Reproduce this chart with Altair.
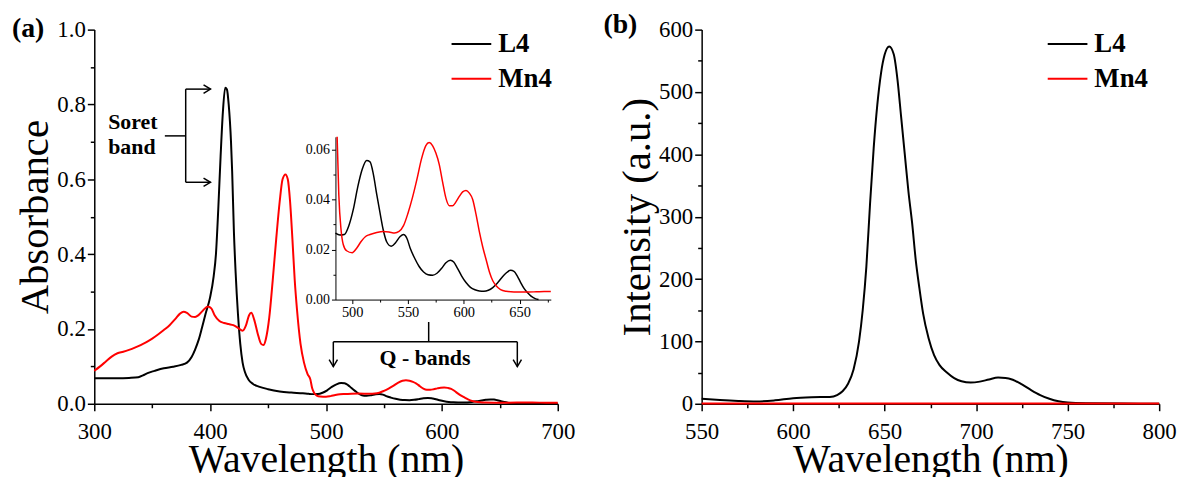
import altair as alt
import pandas as pd

FONT = "Liberation Serif"
SERIES = ["L4", "Mn4"]
COLORS = ["#000000", "#ff0000"]

# ---------------- Panel (a): absorbance, Soret region ----------------
l4_head_wl = [300, 310, 320, 330, 338, 342, 346, 352, 360, 368, 375, 380, 384, 387, 390, 393,
              396, 400, 403, 405, 407, 409, 411, 413, 414.5, 416, 418, 419, 420.5, 422, 424, 426,
              428, 430, 433, 437, 442, 450, 460, 470, 480]
l4_head = [0.068, 0.068, 0.068, 0.069, 0.071, 0.076, 0.082, 0.088, 0.095, 0.099, 0.104, 0.110,
           0.125, 0.145, 0.170, 0.204, 0.240, 0.285, 0.340, 0.400, 0.520, 0.660, 0.780, 0.845,
           0.840, 0.800, 0.700, 0.620, 0.460, 0.350, 0.240, 0.160, 0.110, 0.085, 0.065, 0.053,
           0.046, 0.039, 0.033, 0.030, 0.028]

mn4_head_wl = [300, 305, 310, 315, 320, 325, 330, 335, 340, 345, 350, 355, 360, 365, 370, 374,
               377, 380, 384, 387, 390, 394, 398, 401, 404, 408, 412, 416, 420, 424, 428, 431,
               433.5, 435.5, 438, 441, 444, 446, 448, 451, 454, 457, 460, 462.5, 465, 467, 469,
               471, 473, 475, 478, 481, 484]
mn4_head = [0.088, 0.100, 0.113, 0.126, 0.135, 0.139, 0.144, 0.150, 0.157, 0.165, 0.174, 0.185,
            0.197, 0.210, 0.227, 0.241, 0.246, 0.243, 0.233, 0.232, 0.237, 0.250, 0.260, 0.255,
            0.236, 0.221, 0.216, 0.213, 0.210, 0.203, 0.195, 0.210, 0.236, 0.243, 0.225, 0.188,
            0.160, 0.157, 0.172, 0.230, 0.330, 0.440, 0.540, 0.600, 0.613, 0.600, 0.540, 0.440,
            0.330, 0.250, 0.160, 0.110, 0.080]

# ---------------- Q-band region (inset, also part of the main curves) ----------------
l4_q_wl = [485, 489, 493, 497, 501, 505, 509, 513, 516, 519, 522, 525, 528, 531, 535, 539, 543,
           546, 549, 552, 556, 560, 564, 568, 572, 576, 580, 584, 588, 591, 594, 598, 602, 606,
           610, 614, 618, 622, 626, 630, 634, 638, 642, 645, 648, 651, 654, 657, 660, 664, 667]
l4_q = [0.0265, 0.0258, 0.0260, 0.0295, 0.0360, 0.0450, 0.0520, 0.0555, 0.0550, 0.0500, 0.0420,
        0.0345, 0.0275, 0.0230, 0.0213, 0.0228, 0.0252, 0.0260, 0.0245, 0.0205, 0.0165, 0.0132,
        0.0110, 0.0099, 0.0097, 0.0105, 0.0124, 0.0147, 0.0157, 0.0150, 0.0128, 0.0095, 0.0068,
        0.0049, 0.0039, 0.0034, 0.0033, 0.0037, 0.0048, 0.0065, 0.0087, 0.0106, 0.0117, 0.0113,
        0.0094, 0.0068, 0.0045, 0.0028, 0.0015, 0.0004, 0.0000]

mn4_q_wl = [486.5, 488, 490, 492, 495, 500, 504, 508, 512, 516, 522, 528, 533, 538, 542, 546,
            550, 554, 558, 562, 566, 569, 572, 575, 578, 581, 584, 587, 590, 593, 596, 599, 602,
            605, 608, 611, 614, 617, 620, 623, 626, 629, 633, 638, 645, 655, 665, 672, 678]
mn4_q = [0.0650, 0.0420, 0.0280, 0.0220, 0.0195, 0.0187, 0.0205, 0.0232, 0.0252, 0.0260, 0.0268,
         0.0272, 0.0270, 0.0266, 0.0272, 0.0295, 0.0345, 0.0407, 0.0480, 0.0560, 0.0615, 0.0627,
         0.0615, 0.0585, 0.0540, 0.0470, 0.0405, 0.0375, 0.0375, 0.0390, 0.0412, 0.0430, 0.0436,
         0.0425, 0.0400, 0.0340, 0.0270, 0.0210, 0.0160, 0.0110, 0.0075, 0.0055, 0.0040, 0.0033,
         0.0030, 0.0030, 0.0031, 0.0032, 0.0032]

l4_tail_wl = [675, 685, 700]
l4_tail = [0.0, 0.0, 0.0]
mn4_tail_wl = [690, 700]
mn4_tail = [0.003, 0.003]

# ---------------- Panel (b): emission ----------------
l4_em_wl = [550, 560, 570, 580, 590, 600, 610, 620, 624, 627, 630, 633, 636, 638, 640, 642, 644,
            646, 648, 650, 652.5, 655, 657, 659, 661, 663, 665, 667, 669, 671, 674, 677, 680, 684,
            688, 692, 697, 702, 707, 712, 716, 720, 725, 730, 735, 740, 745, 750, 760, 780, 800]
l4_em = [8, 6, 4.5, 3.7, 5.5, 9, 10.5, 11, 14, 20, 32, 55, 100, 150, 220, 320, 410, 480, 530,
         560, 573, 560, 520, 460, 400, 340, 290, 230, 185, 145, 105, 78, 62, 50, 41, 36, 34, 35.5,
         39, 42, 41.5, 38.5, 31, 22, 14, 8, 4, 2, 0.8, 0.3, 0.2]
mn4_em_wl = [550, 800]
mn4_em = [0.6, 0.6]

# ---------------- annotation data (in panel (a) data units) ----------------
ann_x = [378.9, 378.9, 378.9, 360.9, 506.3, 588.6, 506.3, 665.1]
ann_x2 = [378.9, 400.3, 400.3, 378.9, 665.1, 588.6, 506.3, 665.1]
ann_y = [0.592, 0.841, 0.592, 0.716, 0.1656, 0.1656, 0.0993, 0.0993]
ann_y2 = [0.841, 0.841, 0.592, 0.716, 0.1656, 0.2185, 0.1656, 0.1656]
arrow_r_x = [400.3, 400.3]
arrow_r_y = [0.841, 0.592]
arrow_d_x = [506.3, 665.1]
arrow_d_y = [0.0993, 0.0993]
note_text = ["Soret", "band", "Q - bands"]
note_x = [312, 312, 585.4]
note_y = [0.754, 0.687, 0.121]
note_align = ["left", "left", "center"]

# ---------------- layout ----------------
WA, WB, H = 467, 461, 377
AX, AY = [300, 700], [0, 1.0]
QX, QY = [485, 678], [0, 0.065]
BX, BY = [550, 800], [0, 600]
Q_XRANGE = [243, 460]
Q_YRANGE = [272, 108]


def long(pairs):
    rows = []
    for name, xs, ys in pairs:
        for x, y in zip(xs, ys):
            rows.append({"wl": x, "v": y, "series": name})
    return pd.DataFrame(rows)


main_a = long([
    ("L4", l4_head_wl + l4_q_wl + l4_tail_wl, l4_head + l4_q + l4_tail),
    ("Mn4", mn4_head_wl + mn4_q_wl + mn4_tail_wl, mn4_head + mn4_q + mn4_tail),
])
inset = long([("L4", l4_q_wl, l4_q), ("Mn4", mn4_q_wl, mn4_q)])
inset["col"] = inset["series"].map(dict(zip(SERIES, COLORS)))
em = long([("L4", l4_em_wl, l4_em), ("Mn4", mn4_em_wl, mn4_em)])

AXSTYLE = dict(labelFont=FONT, labelColor="black", labelFlush=False, labelOverlap=False,
               tickColor="black", domainColor="black", grid=False,
               titleFont=FONT, titleColor="black", titleFontWeight="normal")


def major(values, fmt, orient, title, size=23, tick=7, width=1.5, pad=2, tpad=0, tsize=40, offset=0):
    kw = dict(AXSTYLE)
    kw.update(values=values, format=fmt, orient=orient, labelFontSize=size, tickSize=tick,
              tickWidth=width, domainWidth=width, labelPadding=pad, offset=offset)
    if title:
        kw.update(title=title, titleFontSize=tsize, titlePadding=tpad)
    else:
        kw.update(title=None)
    return alt.Axis(**kw)


def minor(values, orient, tick=4, width=1.5, offset=0):
    return alt.Axis(values=values, orient=orient, labels=False, domain=False, tickSize=tick,
                    tickWidth=width, tickColor="black", grid=False, title=None, offset=offset)


def legend(x, y):
    return alt.Legend(title=None, orient="none", legendX=x, legendY=y, direction="vertical",
                      symbolType="stroke", symbolSize=1600, symbolStrokeWidth=2,
                      labelFont=FONT, labelFontSize=27, labelFontWeight="bold",
                      labelColor="black", labelOffset=6, rowPadding=0, clipHeight=35)


color_scale = alt.Scale(domain=SERIES, range=COLORS)

# ---------- panel (a) ----------
sx = lambda d, r=None: alt.Scale(domain=d, nice=False, zero=False, **({"range": r} if r else {}))

a_lines = alt.Chart(main_a).mark_line(strokeWidth=2, interpolate="monotone").encode(
    x=alt.X("wl:Q", scale=sx(AX), axis=major([300, 400, 500, 600, 700], "d", "bottom",
                                              "Wavelength (nm)", pad=10, tpad=-4)),
    y=alt.Y("v:Q", scale=sx(AY), axis=major([0, 0.2, 0.4, 0.6, 0.8, 1.0], ".1f", "left",
                                             "Absorbance", tsize=41, tpad=0)),
    color=alt.Color("series:N", scale=color_scale, legend=legend(359, -3)),
    detail="series:N",
)
a_minor = alt.Chart(main_a).mark_line(opacity=0).encode(
    x=alt.X("wl:Q", scale=sx(AX), axis=minor([350, 450, 550, 650], "bottom")),
    y=alt.Y("v:Q", scale=sx(AY), axis=minor([0.1, 0.3, 0.5, 0.7, 0.9], "left")),
    detail="series:N",
)
q_lines = alt.Chart(inset).mark_line(strokeWidth=1.5, interpolate="monotone").encode(
    x=alt.X("wl:Q", scale=sx(QX, Q_XRANGE),
            axis=major([500, 550, 600, 650], "d", "bottom", None, size=14.5, tick=4, width=1,
                       pad=2, offset=Q_YRANGE[0] - H)),
    y=alt.Y("v:Q", scale=sx(QY, Q_YRANGE),
            axis=major([0, 0.02, 0.04, 0.06], ".2f", "left", None, size=14, tick=4, width=1,
                       pad=2, offset=-Q_XRANGE[0])),
    color=alt.Color("col:N", scale=None),
    detail="series:N",
)
q_minor = alt.Chart(inset).mark_line(opacity=0).encode(
    x=alt.X("wl:Q", scale=sx(QX, Q_XRANGE),
            axis=minor([525, 575, 625, 675], "bottom", tick=2.5, width=1, offset=Q_YRANGE[0] - H)),
    y=alt.Y("v:Q", scale=sx(QY, Q_YRANGE),
            axis=minor([0.01, 0.03, 0.05], "left", tick=2.5, width=1, offset=-Q_XRANGE[0])),
    detail="series:N",
)
ann_df = pd.DataFrame({"x": ann_x, "x2": ann_x2, "y": ann_y, "y2": ann_y2})
a_rules = alt.Chart(ann_df).mark_rule(strokeWidth=1.5, color="black").encode(
    x=alt.X("x:Q", scale=sx(AX), axis=None), x2="x2:Q",
    y=alt.Y("y:Q", scale=sx(AY), axis=None), y2="y2:Q",
)
a_arr_r = alt.Chart(pd.DataFrame({"x": arrow_r_x, "y": arrow_r_y})).mark_point(
    shape="M-1,-0.6L0,0L-1,0.6", size=196, filled=False, strokeWidth=1.5, color="black", opacity=1
).encode(x=alt.X("x:Q", scale=sx(AX), axis=None), y=alt.Y("y:Q", scale=sx(AY), axis=None))
a_arr_d = alt.Chart(pd.DataFrame({"x": arrow_d_x, "y": arrow_d_y})).mark_point(
    shape="M-0.6,-1L0,0L0.6,-1", size=196, filled=False, strokeWidth=1.5, color="black", opacity=1
).encode(x=alt.X("x:Q", scale=sx(AX), axis=None), y=alt.Y("y:Q", scale=sx(AY), axis=None))
notes = pd.DataFrame({"t": note_text, "x": note_x, "y": note_y, "al": note_align})
a_notes_l = alt.Chart(notes[notes.al == "left"]).mark_text(
    font=FONT, fontSize=22, fontWeight="bold", align="left", baseline="middle", color="black"
).encode(x=alt.X("x:Q", scale=sx(AX), axis=None), y=alt.Y("y:Q", scale=sx(AY), axis=None), text="t:N")
a_notes_c = alt.Chart(notes[notes.al == "center"]).mark_text(
    font=FONT, fontSize=22, fontWeight="bold", align="center", baseline="middle", color="black"
).encode(x=alt.X("x:Q", scale=sx(AX), axis=None), y=alt.Y("y:Q", scale=sx(AY), axis=None), text="t:N")
a_label = alt.Chart(pd.DataFrame({"t": ["(a)"]})).mark_text(
    font=FONT, fontSize=28, fontWeight="bold", align="left", baseline="middle", color="black"
).encode(x=alt.value(-83), y=alt.value(-1), text="t:N")

panel_a = alt.layer(
    a_lines, a_minor, q_lines, q_minor, a_rules, a_arr_r, a_arr_d, a_notes_l, a_notes_c, a_label
).resolve_scale(x="independent", y="independent").properties(width=WA, height=H)

# ---------- panel (b) ----------
b_lines = alt.Chart(em).mark_line(strokeWidth=2, interpolate="monotone").encode(
    x=alt.X("wl:Q", scale=sx(BX), axis=major([550, 600, 650, 700, 750, 800], "d", "bottom",
                                              "Wavelength (nm)", pad=10, tpad=-4)),
    y=alt.Y("v:Q", scale=sx(BY), axis=major([0, 100, 200, 300, 400, 500, 600], "d", "left",
                                             "Intensity (a.u.)", tsize=41, tpad=0)),
    color=alt.Color("series:N", scale=color_scale, legend=legend(347.7, -3)),
    detail="series:N",
)
b_minor = alt.Chart(em).mark_line(opacity=0).encode(
    x=alt.X("wl:Q", scale=sx(BX), axis=minor([575, 625, 675, 725, 775], "bottom")),
    y=alt.Y("v:Q", scale=sx(BY), axis=minor([50, 150, 250, 350, 450, 550], "left")),
    detail="series:N",
)
b_label = alt.Chart(pd.DataFrame({"t": ["(b)"]})).mark_text(
    font=FONT, fontSize=28, fontWeight="bold", align="left", baseline="middle", color="black"
).encode(x=alt.value(-99), y=alt.value(-5), text="t:N")

panel_b = alt.layer(b_lines, b_minor, b_label).resolve_axis(
    x="independent", y="independent").properties(width=WB, height=H)

chart = alt.hconcat(panel_a, panel_b, spacing=28).resolve_scale(color="independent").properties(
    padding={"left": 12, "top": 9, "right": 5, "bottom": 5}, background="white"
).configure_view(stroke=None)

chart.save("out.html", embed_options={"renderer": "svg", "actions": False})
